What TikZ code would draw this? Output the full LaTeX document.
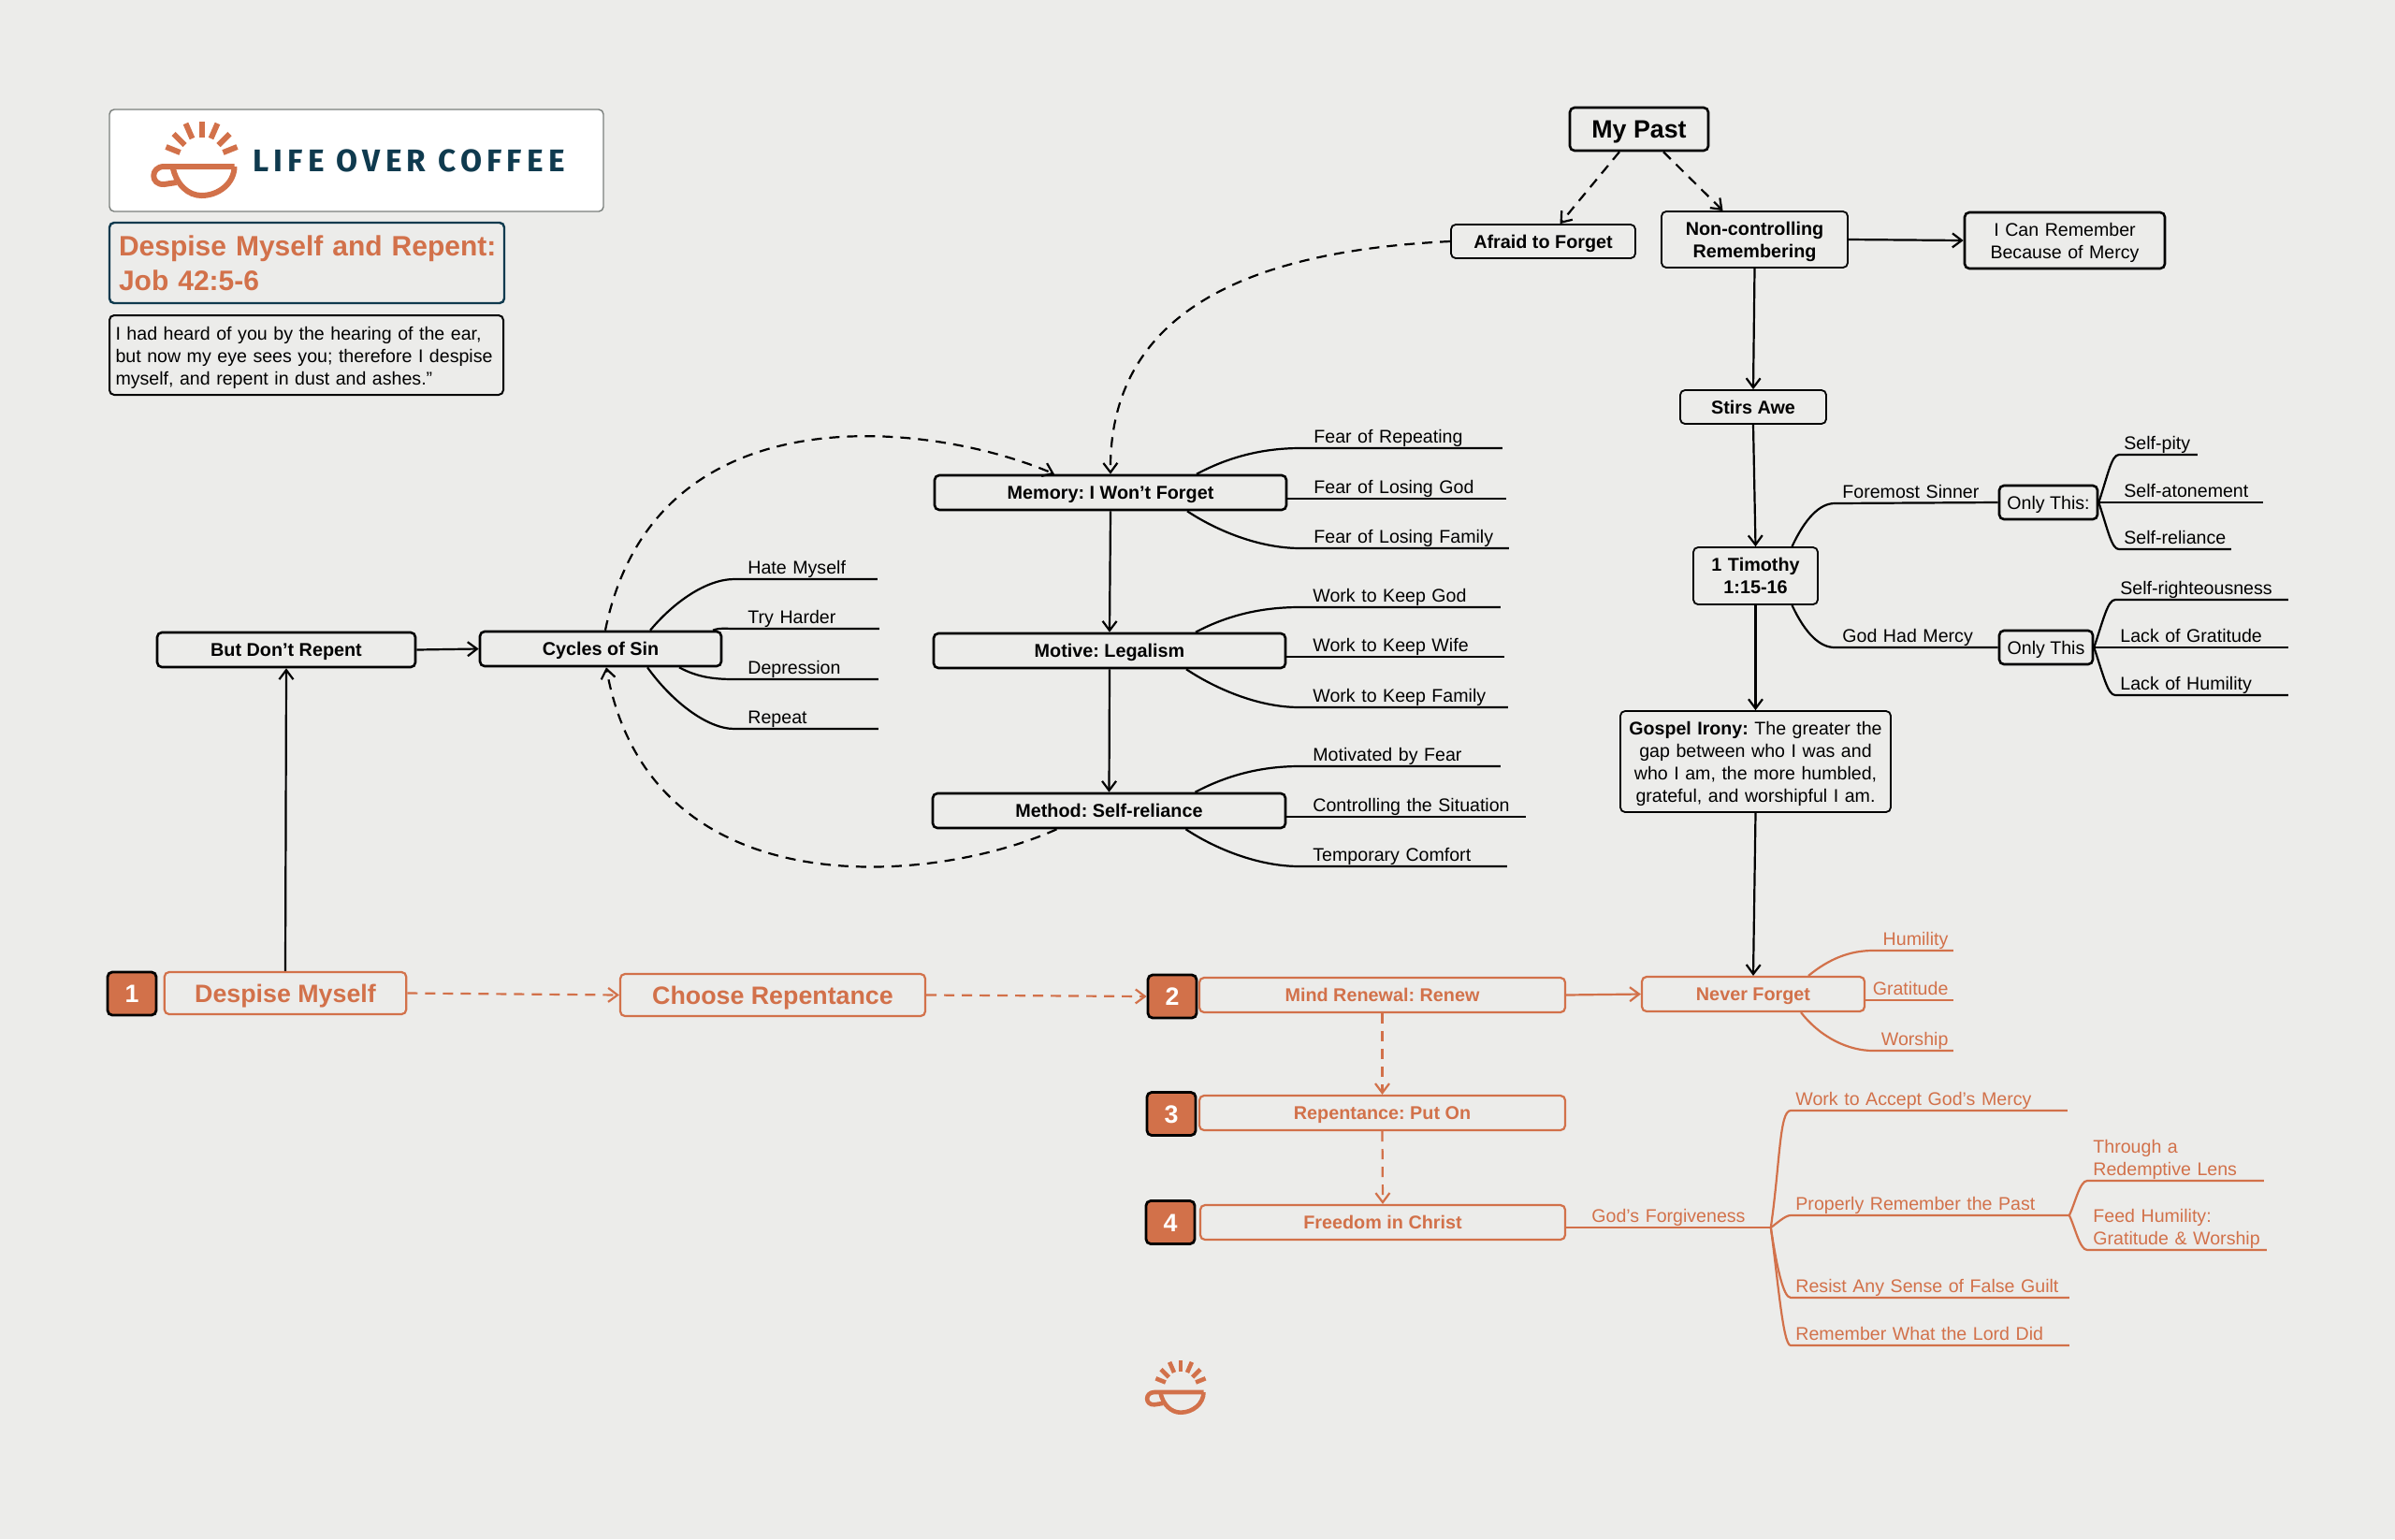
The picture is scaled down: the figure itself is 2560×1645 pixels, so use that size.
\documentclass[tikz,border=0pt]{standalone}
\usepackage{fontspec}
\setmainfont{Liberation Sans}
\newfontfamily\logofont[LetterSpace=15.5]{Fira Sans}
\usepackage{tikz}
\usetikzlibrary{arrows.meta}
\usepackage{xcolor}
\frenchspacing
\definecolor{coffeeBg}{HTML}{ECECEA}
\definecolor{coffeeOrange}{HTML}{D2714A}
\definecolor{coffeeNavy}{HTML}{0F3A4E}
\definecolor{coffeeGrey}{HTML}{7A7F7C}
\tikzset{
  midtext/.style={execute at begin node={\rule{0pt}{9.7pt}},execute at end node={\rule[-2.5pt]{0pt}{0pt}}},
  bigtext/.style={execute at begin node={\rule{0pt}{12.5pt}},execute at end node={\rule[-2.8pt]{0pt}{0pt}},font=\fontsize{13.4}{16}\selectfont\bfseries},
  thinbox/.style={draw=black,line width=0.9pt,rounded corners=2.5pt,inner sep=0pt,align=center,midtext,font=\fontsize{9.9}{12}\selectfont\bfseries},
  thickbox/.style={thinbox,line width=1.3pt},
  orangebox/.style={thinbox,draw=coffeeOrange,text=coffeeOrange,line width=1.1pt},
  numbox/.style={draw=black,fill=coffeeOrange,text=white,line width=1.4pt,rounded corners=2.5pt,inner sep=0pt,minimum width=26pt,minimum height=23pt,bigtext},
  leaf/.style={anchor=south west,inner xsep=7pt,inner ysep=0pt,text width=#1,align=left,execute at end node={\rule[-2.4pt]{0pt}{0pt}}},
  leafs/.style={leaf=#1,inner xsep=2.5pt},
  flow/.style={-{Straight Barb[length=5pt,width=7.5pt]},line width=1.1pt},
  dashflow/.style={flow,dash pattern=on 5.5pt off 4pt},
  branch/.style={line width=1.1pt}
}
\newcommand{\cupmark}[4]{
\begin{scope}[shift={(#1,#2)},scale=#3,line width=#4,coffeeOrange]
\draw (0,-48)--(0,-31);
\draw (-17,-46)--(-10,-30);
\draw (17,-46)--(10,-30);
\draw (-30,-35)--(-18,-23);
\draw (30,-35)--(18,-23);
\draw (-38,-21)--(-23,-15);
\draw (38,-21)--(23,-15);
\draw[line join=round] (35,0)--(-40,0) .. controls (-55,0) and (-55,20) .. (-40,19)--(-27,17);
\draw (35,0) .. controls (35,18) and (18,31) .. (0,31) .. controls (-14,31) and (-27,20) .. (-31,0);
\end{scope}}
\begin{document}
\begin{tikzpicture}[x=0.5pt,y=-0.5pt,every node/.style={font=\fontsize{9.8}{12}\selectfont}]
\path[use as bounding box,fill=coffeeBg] (0,0) rectangle (2560,1645);
\node[draw=coffeeGrey,fill=white,line width=0.7pt,rounded corners=2.5pt,minimum width=264pt,minimum height=54.5pt] (logo) at (381,171.5) {};
\cupmark{215.5}{178}{1}{3pt}
\node[anchor=west,inner sep=0pt,text=coffeeNavy,font=\logofont\fontsize{16.7}{20}\selectfont\bfseries] (brand) at (270,171.5) {LIFE OVER COFFEE};
\node[draw=coffeeNavy,line width=1.2pt,rounded corners=2.5pt,inner xsep=5pt,inner ysep=0pt,minimum height=43pt,text width=201pt,align=left,text=coffeeOrange,font=\fontsize{15}{18.5}\selectfont\bfseries,execute at begin node={\rule{0pt}{14pt}},execute at end node={\rule[-3.2pt]{0pt}{0pt}}] (title) at (328,281) {\mbox{Despise Myself and Repent:}\\Job 42:5-6};
\node[draw=black,line width=1pt,rounded corners=2.5pt,inner xsep=3.25pt,inner ysep=0pt,minimum height=42.5pt,text width=204pt,align=left,midtext,execute at begin node={\rule{0pt}{10.4pt}}] (verse) at (327.5,379.5) {\mbox{I had heard of you by the hearing of the ear,}\\\mbox{but now my eye sees you; therefore I despise}\\\mbox{myself, and repent in dust and ashes.”}};
\node[thickbox,minimum width=74pt,minimum height=23pt,bigtext] (past) at (1752,138) {My Past};
\node[thinbox,minimum width=98.5pt,minimum height=18pt] (afr) at (1649.5,258) {Afraid to Forget};
\node[thinbox,text width=99.5pt,minimum height=30pt] (non) at (1875.5,256) {Non-controlling\\Remembering};
\node[thickbox,text width=107pt,minimum height=30pt,font=\fontsize{9.8}{12}\selectfont] (can) at (2207,257) {I Can Remember\\Because of Mercy};
\node[thinbox,minimum width=78pt,minimum height=18pt] (stir) at (1874,435) {Stirs Awe};
\node[thinbox,text width=66.5pt,minimum height=30.5pt] (tim) at (1876.5,615.5) {1 Timothy\\1:15-16};
\node[thinbox,text width=144.5pt,minimum height=54pt,font=\fontsize{9.8}{12}\selectfont] (gos) at (1876.5,814) {\textbf{Gospel Irony:} The greater the\\gap between who I was and\\who I am, the more humbled,\\grateful, and worshipful I am.};
\node[thickbox,minimum width=52.5pt,minimum height=18pt,font=\fontsize{9.8}{12}\selectfont] (only1) at (2189.5,537) {Only This:};
\node[thickbox,minimum width=50pt,minimum height=18pt,font=\fontsize{9.8}{12}\selectfont] (only2) at (2187,692) {Only This};
\node[thickbox,minimum width=188pt,minimum height=18.5pt] (mem) at (1187,526.5) {Memory: I Won’t Forget};
\node[thickbox,minimum width=188pt,minimum height=18.5pt] (mot) at (1186,695.5) {Motive: Legalism};
\node[thickbox,minimum width=188.5pt,minimum height=18.5pt] (met) at (1185.5,866.5) {Method: Self-reliance};
\node[thickbox,minimum width=138pt,minimum height=18.5pt] (but) at (306,694.5) {But Don’t Repent};
\node[thickbox,minimum width=129pt,minimum height=18.5pt] (cyc) at (642,693.5) {Cycles of Sin};
\node[numbox] (n1) at (141,1062) {1};
\node[orangebox,minimum width=129.25pt,minimum height=22.5pt,bigtext] (des) at (305,1061.5) {Despise Myself};
\node[orangebox,minimum width=163pt,minimum height=22.5pt,bigtext] (cho) at (826,1063.5) {Choose Repentance};
\node[numbox] (n2) at (1253,1065) {2};
\node[orangebox,minimum width=195.5pt,minimum height=18.5pt] (mind) at (1477.5,1063.5) {Mind Renewal: Renew};
\node[numbox] (n3) at (1252,1190.5) {3};
\node[orangebox,minimum width=195.5pt,minimum height=18.5pt] (rep) at (1477.5,1189.5) {Repentance: Put On};
\node[numbox] (n4) at (1251,1306.5) {4};
\node[orangebox,minimum width=195pt,minimum height=18.5pt] (fre) at (1478,1306.5) {Freedom in Christ};
\node[orangebox,minimum width=119pt,minimum height=18.5pt] (nev) at (1874,1062.5) {Never Forget};
\node[leaf=62pt] (cyc1) at (785,619) {Hate Myself};
\node[leaf=63pt] (cyc2) at (785,672) {Try Harder};
\node[leaf=62.5pt] (cyc3) at (785,726) {Depression};
\node[leaf=62.5pt] (cyc4) at (785,779) {Repeat};
\node[leaf=93.5pt] (mem1) at (1390,479) {Fear of Repeating};
\node[leaf=95.5pt] (mem2) at (1390,533) {Fear of Losing God};
\node[leaf=97pt] (mem3) at (1390,586) {\mbox{Fear of Losing Family}};
\node[leaf=93pt] (mot1) at (1389,649) {Work to Keep God};
\node[leaf=95pt] (mot2) at (1389,702) {Work to Keep Wife};
\node[leaf=97pt] (mot3) at (1389,756) {\mbox{Work to Keep Family}};
\node[leaf=93pt] (met1) at (1389,819) {Motivated by Fear};
\node[leaf=106.5pt] (met2) at (1389,873) {\mbox{Controlling the Situation}};
\node[leaf=96.5pt] (met3) at (1389,926) {Temporary Comfort};
\node[leaf=80pt,inner xsep=4pt] (fs) at (1961,538) {Foremost Sinner};
\node[leaf=80pt,inner xsep=4pt] (gm) at (1961,692) {God Had Mercy};
\node[leafs=36.5pt] (sf1) at (2265,486) {\mbox{Self-pity}};
\node[leafs=71.5pt] (sf2) at (2265,537) {\mbox{Self-atonement}};
\node[leafs=54.5pt] (sf3) at (2265,587) {\mbox{Self-reliance}};
\node[leafs=87pt] (lk1) at (2261,641) {\mbox{Self-righteousness}};
\node[leafs=87pt] (lk2) at (2261,692) {Lack of Gratitude};
\node[leafs=87pt] (lk3) at (2261,743) {Lack of Humility};
\node[leafs=37.5pt,align=right,coffeeOrange] (hum) at (2002,1016) {\mbox{Humility}};
\node[leafs=42pt,align=right,coffeeOrange] (gra) at (1993,1069) {\mbox{Gratitude}};
\node[leafs=37.5pt,align=right,coffeeOrange] (wor) at (2002,1123) {\mbox{Worship}};
\node[leaf=82pt,inner xsep=13.5pt,coffeeOrange] (gf) at (1674,1312) {\mbox{God’s Forgiveness}};
\node[leafs=142.5pt,coffeeOrange] (wa) at (1914,1187) {Work to Accept God’s Mercy};
\node[leafs=143.5pt,coffeeOrange] (pr) at (1914,1299) {Properly Remember the Past};
\node[leafs=143.5pt,coffeeOrange] (rs) at (1914,1387) {Resist Any Sense of False Guilt};
\node[leafs=143.5pt,coffeeOrange] (rm) at (1914,1438) {Remember What the Lord Did};
\node[leaf=88pt,inner xsep=3pt,coffeeOrange] (th) at (2231,1262) {Through a\\Redemptive Lens};
\node[leaf=89.5pt,inner xsep=3pt,coffeeOrange] (fh) at (2231,1336) {Feed Humility:\\\mbox{Gratitude \& Worship}};
\draw[dashflow] ([xshift=-10.5pt]past.south)--([xshift=9pt]afr.north);
\draw[dashflow] ([xshift=13pt]past.south)--([xshift=-17pt]non.north);
\draw[flow] (non.east)--(can.west);
\draw[flow] (non.south)--(stir.north);
\draw[flow] (stir.south)--(tim.north);
\draw[flow] (tim.south)--(gos.north);
\draw[flow] (gos.south)--(nev.north);
\draw[dashflow] (afr.west) .. controls (1340,268) and (1185,330) .. (mem.north);
\draw[flow] (mem.south)--(mot.north);
\draw[flow] (mot.south)--(met.north);
\draw[flow] (but.east)--(cyc.west);
\draw[flow] (des.north)--(but.south);
\draw[dashflow] ([xshift=2.5pt]cyc.north) .. controls (700,412) and (1000,452) .. ([xshift=-30pt]mem.north);
\draw[dashflow] ([xshift=-28pt]met.south) .. controls (1000,945) and (695,975) .. ([xshift=3pt]cyc.south);
\draw[dashflow,coffeeOrange] (des.east)--(cho.west);
\draw[dashflow,coffeeOrange] (cho.east)--(n2.west);
\draw[flow,coffeeOrange] (mind.east)--(nev.west);
\draw[dashflow,coffeeOrange] (mind.south)--(rep.north);
\draw[dashflow,coffeeOrange] (rep.south)--(fre.north);
\draw[branch] ([xshift=26.5pt]cyc.north) .. controls +(25,-30) and +(-30,0) .. (cyc1.south west)--(cyc1.south east);
\draw[branch] ([xshift=60pt]cyc.north) .. controls +(8,-3) and +(-10,0) .. (cyc2.south west)--(cyc2.south east);
\draw[branch] ([xshift=42pt]cyc.south) .. controls +(20,11) and +(-20,0) .. (cyc3.south west)--(cyc3.south east);
\draw[branch] ([xshift=25pt]cyc.south) .. controls +(25,35) and +(-30,0) .. (cyc4.south west)--(cyc4.south east);
\draw[branch] ([xshift=46pt]mem.north) .. controls +(30,-16) and +(-45,0) .. (mem1.south west)--(mem1.south east);
\draw[branch] (mem.east |- mem2.south west)--(mem2.south east);
\draw[branch] ([xshift=41pt]mem.south) .. controls +(30,20) and +(-45,0) .. (mem3.south west)--(mem3.south east);
\draw[branch] ([xshift=46pt]mot.north) .. controls +(30,-16) and +(-45,0) .. (mot1.south west)--(mot1.south east);
\draw[branch] (mot.east |- mot2.south west)--(mot2.south east);
\draw[branch] ([xshift=41pt]mot.south) .. controls +(30,20) and +(-45,0) .. (mot3.south west)--(mot3.south east);
\draw[branch] ([xshift=46pt]met.north) .. controls +(30,-16) and +(-45,0) .. (met1.south west)--(met1.south east);
\draw[branch] (met.east |- met2.south west)--(met2.south east);
\draw[branch] ([xshift=41pt]met.south) .. controls +(30,20) and +(-45,0) .. (met3.south west)--(met3.south east);
\draw[branch] ([xshift=19.5pt]tim.north) .. controls +(14,-30) and +(-16,0) .. (fs.south west)--(only1.west);
\draw[branch] ([xshift=19.5pt]tim.south) .. controls +(14,30) and +(-16,0) .. (gm.south west)--(only2.west);
\draw[branch] (only1.east) .. controls +(10,-30) and +(-8,0) .. (sf1.south west)--(sf1.south east);
\draw[branch] (only1.east)--(sf2.south east);
\draw[branch] (only1.east) .. controls +(10,30) and +(-8,0) .. (sf3.south west)--(sf3.south east);
\draw[branch] (only2.east) .. controls +(10,-30) and +(-8,0) .. (lk1.south west)--(lk1.south east);
\draw[branch] (only2.east)--(lk2.south east);
\draw[branch] (only2.east) .. controls +(10,30) and +(-8,0) .. (lk3.south west)--(lk3.south east);
\draw[branch,coffeeOrange] ([xshift=29.5pt]nev.north) .. controls +(22,-18) and +(-25,0) .. (hum.south west)--(hum.south east);
\draw[branch,coffeeOrange] (gra.south west)--(gra.south east);
\draw[branch,coffeeOrange] ([xshift=25.5pt]nev.south) .. controls +(22,28) and +(-25,0) .. (wor.south west)--(wor.south east);
\draw[branch,coffeeOrange] (gf.south west)--(gf.south east);
\draw[branch,coffeeOrange] (gf.south east) .. controls +(10,-70) and +(-12,0) .. (wa.south west)--(wa.south east);
\draw[branch,coffeeOrange] (gf.south east) .. controls +(6,-4) and +(-6,0) .. (pr.south west)--(pr.south east);
\draw[branch,coffeeOrange] (gf.south east) .. controls +(6,40) and +(-8,0) .. (rs.south west)--(rs.south east);
\draw[branch,coffeeOrange] (gf.south east) .. controls +(8,60) and +(-8,0) .. (rm.south west)--(rm.south east);
\draw[branch,coffeeOrange] (pr.south east) .. controls +(6,-12) and +(-8,0) .. (th.south west)--(th.south east);
\draw[branch,coffeeOrange] (pr.south east) .. controls +(6,12) and +(-8,0) .. (fh.south west)--(fh.south east);
\cupmark{1262}{1488}{0.7}{2.3pt}
\end{tikzpicture}
\end{document}
